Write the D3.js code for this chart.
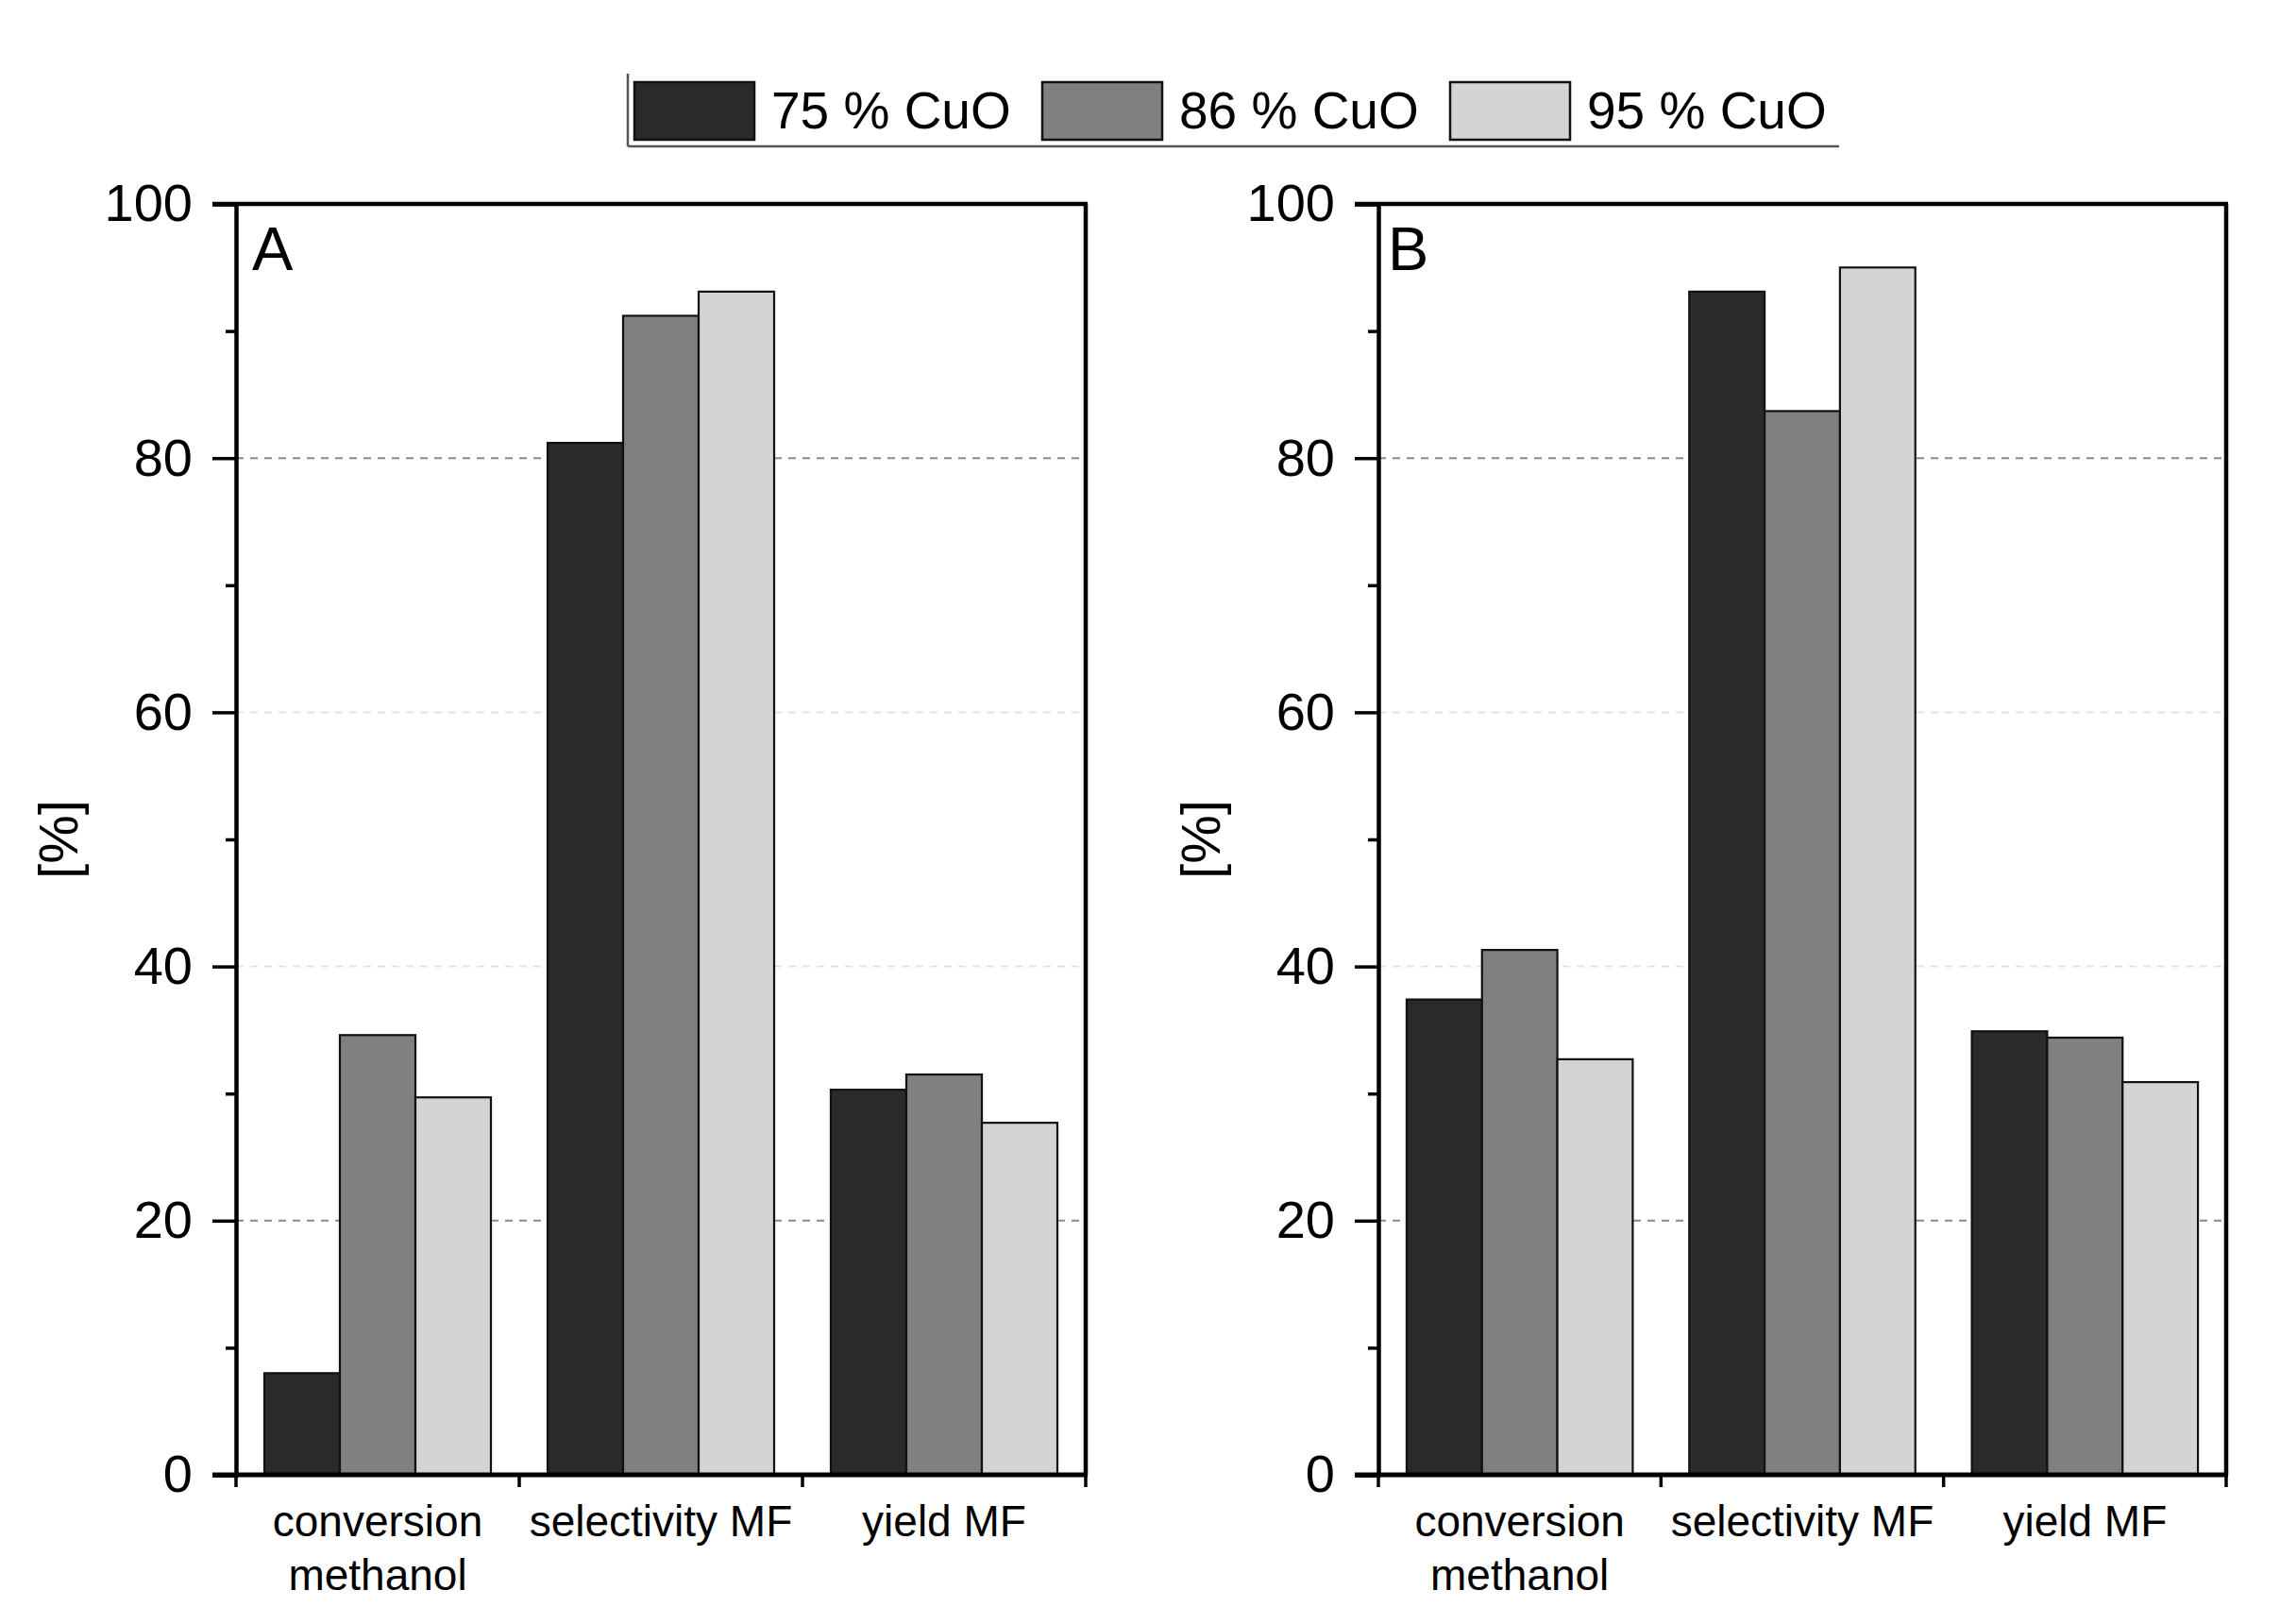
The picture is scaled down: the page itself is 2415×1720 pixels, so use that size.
<!DOCTYPE html>
<html>
<head>
<meta charset="utf-8">
<script src="https://cdn.jsdelivr.net/npm/d3@7"></script>
<style>
  html, body { margin: 0; padding: 0; background: #fff; }
  svg text { font-family: "Liberation Sans", Arial, sans-serif; fill: #000; }
</style>
</head>
<body>
<svg id="chart" width="2415" height="1720"></svg>
<script>
// ---------- data ----------
const categories = ["conversion\nmethanol", "selectivity MF", "yield MF"];
const seriesNames = ["75 % CuO", "86 % CuO", "95 % CuO"];
const seriesColors = ["#2a2a2a", "#808080", "#d4d4d4"];
// Panel A values per series (conversion, selectivity, yield)
const panelA_75 = [8.0, 81.2, 30.3];
const panelA_86 = [34.6, 91.2, 31.5];
const panelA_95 = [29.7, 93.1, 27.7];
// Panel B values
const panelB_75 = [37.4, 93.1, 34.9];
const panelB_86 = [41.3, 83.7, 34.4];
const panelB_95 = [32.7, 95.0, 30.9];
const yMajorTicks = [0, 20, 40, 60, 80, 100];
const yMinorTicks = [10, 30, 50, 70, 90];
const gridStrong = [20, 80];
const gridFaint = [40, 60];
const yLabel = "[%]";

// ---------- drawing ----------
const svg = d3.select("#chart");
svg.append("rect").attr("width", 2415).attr("height", 1720).attr("fill", "#fff");

const plotTop = 216, plotBottom = 1562;
const y = d3.scaleLinear().domain([0, 100]).range([plotBottom, plotTop]);

function drawPanel(x0, x1, seriesValues, letter, letterDx) {
  const g = svg.append("g");
  const x = d3.scaleBand().domain(categories).range([x0, x1])
    .paddingInner(0.2).paddingOuter(0.1);
  const xs = d3.scaleBand().domain(seriesNames).range([0, x.bandwidth()]);

  // grid lines
  g.selectAll(".gs").data(gridStrong).join("line")
    .attr("x1", x0).attr("x2", x1)
    .attr("y1", d => y(d)).attr("y2", d => y(d))
    .attr("stroke", "#8a8a8a").attr("stroke-width", 2)
    .attr("stroke-dasharray", "8,7");
  g.selectAll(".gf").data(gridFaint).join("line")
    .attr("x1", x0).attr("x2", x1)
    .attr("y1", d => y(d)).attr("y2", d => y(d))
    .attr("stroke", "#e2e2e2").attr("stroke-width", 2)
    .attr("stroke-dasharray", "8,7");

  // bars
  seriesNames.forEach((s, si) => {
    g.append("g").selectAll("rect").data(seriesValues[si]).join("rect")
      .attr("x", (d, i) => x(categories[i]) + xs(s))
      .attr("y", d => y(d))
      .attr("width", xs.bandwidth())
      .attr("height", d => y(0) - y(d))
      .attr("fill", seriesColors[si])
      .attr("stroke", "#111").attr("stroke-width", 2.2);
  });

  // frame top & right
  g.append("line").attr("x1", x0 - 25).attr("x2", x1 + 2)
    .attr("y1", plotTop).attr("y2", plotTop).attr("stroke", "#000").attr("stroke-width", 4.5);
  g.append("line").attr("x1", x1).attr("x2", x1)
    .attr("y1", plotTop).attr("y2", plotBottom).attr("stroke", "#000").attr("stroke-width", 4.5);

  // y axis major
  const ay = g.append("g").attr("transform", `translate(${x0},0)`)
    .call(d3.axisLeft(y).tickValues(yMajorTicks).tickSize(25).tickPadding(21).tickFormat(d3.format("d")));
  ay.select(".domain").attr("stroke", "#000").attr("stroke-width", 4.5);
  ay.selectAll(".tick line").attr("stroke", "#000").attr("stroke-width", 3.5);
  ay.selectAll(".tick text").attr("font-size", 56).attr("font-family", '"Liberation Sans", Arial, sans-serif').attr("fill", "#000");
  // y axis minor
  const aym = g.append("g").attr("transform", `translate(${x0},0)`)
    .call(d3.axisLeft(y).tickValues(yMinorTicks).tickSize(11).tickFormat(""));
  aym.select(".domain").remove();
  aym.selectAll(".tick line").attr("stroke", "#000").attr("stroke-width", 3.5);

  // x axis line
  g.append("line").attr("x1", x0 - 25).attr("x2", x1 + 2)
    .attr("y1", plotBottom).attr("y2", plotBottom).attr("stroke", "#000").attr("stroke-width", 5);
  // x boundary ticks
  const bounds = categories.map(c => x(c) - x.step() * x.paddingInner() / 2).concat([x1]);
  bounds[0] = x0;
  g.selectAll(".xt").data(bounds).join("line")
    .attr("x1", d => d).attr("x2", d => d)
    .attr("y1", plotBottom).attr("y2", plotBottom + 13)
    .attr("stroke", "#000").attr("stroke-width", 3.5);

  // category labels
  categories.forEach(c => {
    const lines = c.split("\n");
    const t = g.append("text")
      .attr("x", x(c) + x.bandwidth() / 2)
      .attr("y", 1627)
      .attr("text-anchor", "middle")
      .attr("font-size", 46);
    lines.forEach((ln, li) => {
      t.append("tspan").attr("x", x(c) + x.bandwidth() / 2)
        .attr("dy", li === 0 ? 0 : 57).text(ln);
    });
  });

  // y label
  g.append("text")
    .attr("transform", `translate(${x0 - 168},${(plotTop + plotBottom) / 2}) rotate(-90)`)
    .attr("text-anchor", "middle").attr("font-size", 58).text(yLabel);

  // panel letter
  g.append("text").attr("x", x0 + letterDx).attr("y", plotTop + 70)
    .attr("font-size", 65).text(letter);
}

drawPanel(250, 1150, [panelA_75, panelA_86, panelA_95], "A", 17);
drawPanel(1460, 2358, [panelB_75, panelB_86, panelB_95], "B", 10);

// ---------- legend ----------
const leg = svg.append("g");
leg.append("line").attr("x1", 665).attr("x2", 665).attr("y1", 78).attr("y2", 155)
  .attr("stroke", "#555").attr("stroke-width", 2.5);
leg.append("line").attr("x1", 665).attr("x2", 1948).attr("y1", 155).attr("y2", 155)
  .attr("stroke", "#555").attr("stroke-width", 2.5);
const legX = d3.scalePoint().domain(seriesNames).range([672, 1536]);
seriesNames.forEach((s, i) => {
  leg.append("rect").attr("x", legX(s)).attr("y", 87).attr("width", 127).attr("height", 61)
    .attr("fill", seriesColors[i]).attr("stroke", "#111").attr("stroke-width", 2.5);
  leg.append("text").attr("x", legX(s) + 145).attr("y", 136)
    .attr("font-size", 55).text(s);
});
</script>
</body>
</html>
